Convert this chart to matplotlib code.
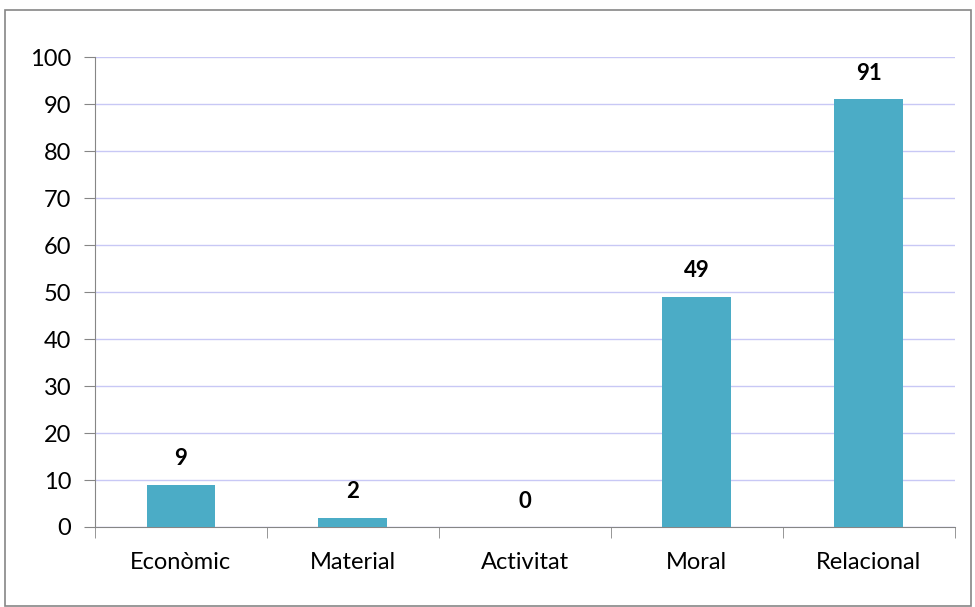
import matplotlib.pyplot as plt
import matplotlib.patches as mpatches

categories = ["Econòmic", "Material", "Activitat", "Moral", "Relacional"]
values = [9, 2, 0, 49, 91]
yticks = [0, 10, 20, 30, 40, 50, 60, 70, 80, 90, 100]

plt.rcParams["font.family"] = ["Lato", "DejaVu Sans"]

fig = plt.figure(figsize=(9.75, 6.07), dpi=100)
ax = fig.add_axes([0.0974, 0.1318, 0.8816, 0.7742])

x = list(range(len(categories)))
ax.bar(x, values, width=0.4, color="#4BACC6", zorder=3)

for xi, v in zip(x, values):
    ax.annotate(str(v), (xi, v), xytext=(0, 11), textcoords="offset points",
                ha="center", va="bottom", fontsize=16, fontweight="bold")

ax.set_xlim(-0.5, len(categories) - 0.5)
ax.set_ylim(0, 100)
ax.set_yticks(yticks)
ax.set_xticks(x)
ax.set_xticklabels(categories)
ax.set_xticks([i - 0.5 for i in range(len(categories) + 1)], minor=True)
ax.tick_params(axis="x", which="major", length=0, pad=18, labelsize=17)
ax.tick_params(axis="x", which="minor", length=8, color="#868686", direction="out")
ax.tick_params(axis="y", length=8, color="#868686", labelsize=17, pad=9)

ax.grid(axis="y", color="#C8C8F5", linewidth=1, zorder=0)
for s in ["top", "right"]:
    ax.spines[s].set_visible(False)
for s in ["left", "bottom"]:
    ax.spines[s].set_color("#868686")

border = mpatches.Rectangle((5 / 975, 1 / 607), 966 / 975, 596 / 607,
                            transform=fig.transFigure, fill=False,
                            edgecolor="#868686", linewidth=1.2)
fig.patches.append(border)

fig.savefig("out.png", dpi=100)
